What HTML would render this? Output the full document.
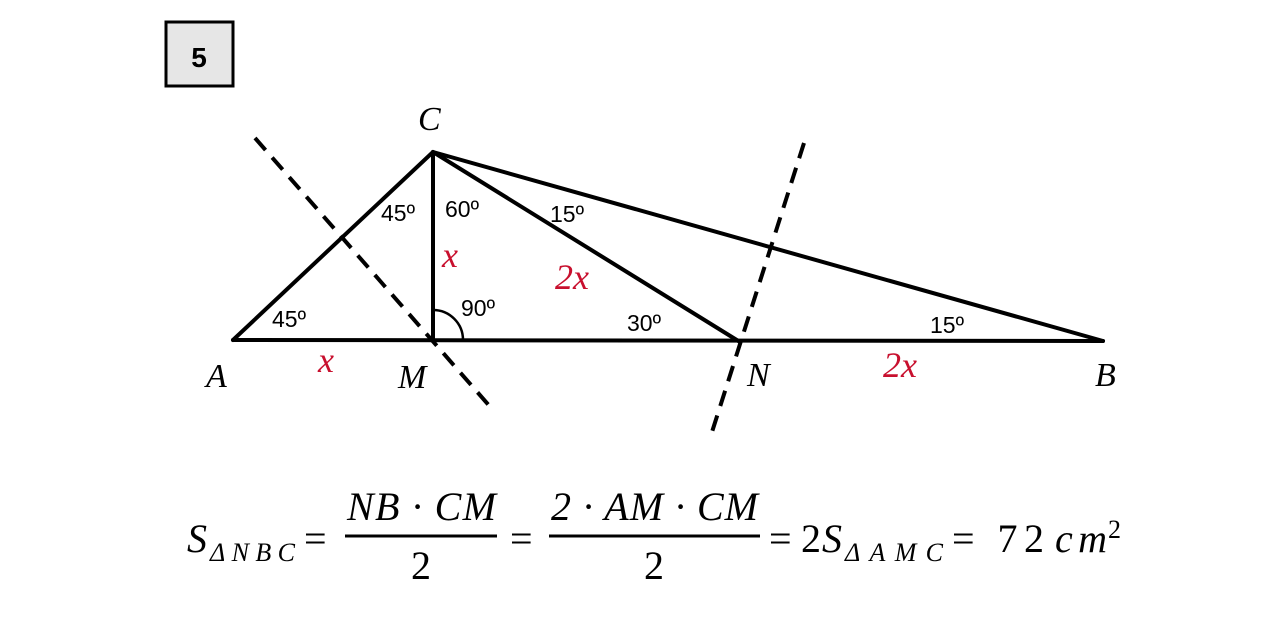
<!DOCTYPE html>
<html><head><style>
body{margin:0;background:#fff;}
</style></head><body>
<svg width="1275" height="618" viewBox="0 0 1275 618" xmlns="http://www.w3.org/2000/svg" font-family="Liberation Sans, sans-serif">
<rect x="166" y="22" width="67" height="64" fill="#e6e6e6" stroke="#000" stroke-width="3"/>
<text x="199" y="67" font-size="28" font-weight="bold" text-anchor="middle">5</text>
<g stroke="#000" stroke-width="4" fill="none" stroke-linecap="round">
<line x1="233" y1="340" x2="1103" y2="341"/>
<line x1="233" y1="340" x2="433" y2="152"/>
<line x1="433" y1="152" x2="433" y2="340"/>
<line x1="433" y1="152" x2="740" y2="342"/>
<line x1="433" y1="152" x2="1103" y2="341"/>
<path d="M433 310 A30 30 0 0 1 463 340" stroke-width="2.5"/>
</g>
<g stroke="#000" stroke-width="4" stroke-dasharray="16 10">
<line x1="255" y1="138" x2="493" y2="410"/>
<line x1="804" y1="143" x2="712" y2="432"/>
</g>
<g font-style="italic" font-size="34" font-family="Liberation Serif, serif">
<text x="418" y="130">C</text>
<text x="206" y="387">A</text>
<text x="398" y="388">M</text>
<text x="747" y="386">N</text>
<text x="1095" y="386">B</text>
</g>
<g font-size="23">
<text x="381" y="221">45º</text><text x="445" y="217">60º</text>
<text x="550" y="222">15º</text><text x="272" y="327">45º</text>
<text x="461" y="316">90º</text><text x="627" y="331">30º</text>
<text x="930" y="333">15º</text>
</g>
<g fill="#c8102e" font-size="36" font-style="italic" font-family="Liberation Serif, serif">
<text x="442" y="267">x</text>
<text x="555" y="289">2x</text>
<text x="318" y="372">x</text>
<text x="883" y="377">2x</text>
</g>
<g font-size="40" font-style="italic" font-family="Liberation Serif, serif">
<text x="187" y="552" textLength="26">S</text>
<text x="210" y="561" font-size="26" textLength="85">ΔNBC</text>
<text x="304" y="552" font-style="normal" textLength="32">=</text>
<text x="347" y="520" textLength="149">NB · CM</text>
<line x1="345" y1="536" x2="497" y2="536" stroke="#000" stroke-width="3"/>
<text x="421" y="579" font-style="normal" text-anchor="middle">2</text>
<text x="510" y="552" font-style="normal" textLength="30">=</text>
<text x="551" y="520" textLength="207">2 · AM · CM</text>
<line x1="549" y1="536" x2="760" y2="536" stroke="#000" stroke-width="3"/>
<text x="654" y="579" font-style="normal" text-anchor="middle">2</text>
<text x="769" y="552" font-style="normal" textLength="52">= 2</text>
<text x="822" y="552" textLength="26">S</text>
<text x="845" y="561" font-size="26" textLength="98">ΔAMC</text>
<text x="952" y="552" font-style="normal" textLength="92">= 72</text>
<text x="1055" y="552" textLength="52">cm</text>
<text x="1108" y="538" font-size="26" font-style="normal">2</text>
</g>
</svg>
</body></html>
